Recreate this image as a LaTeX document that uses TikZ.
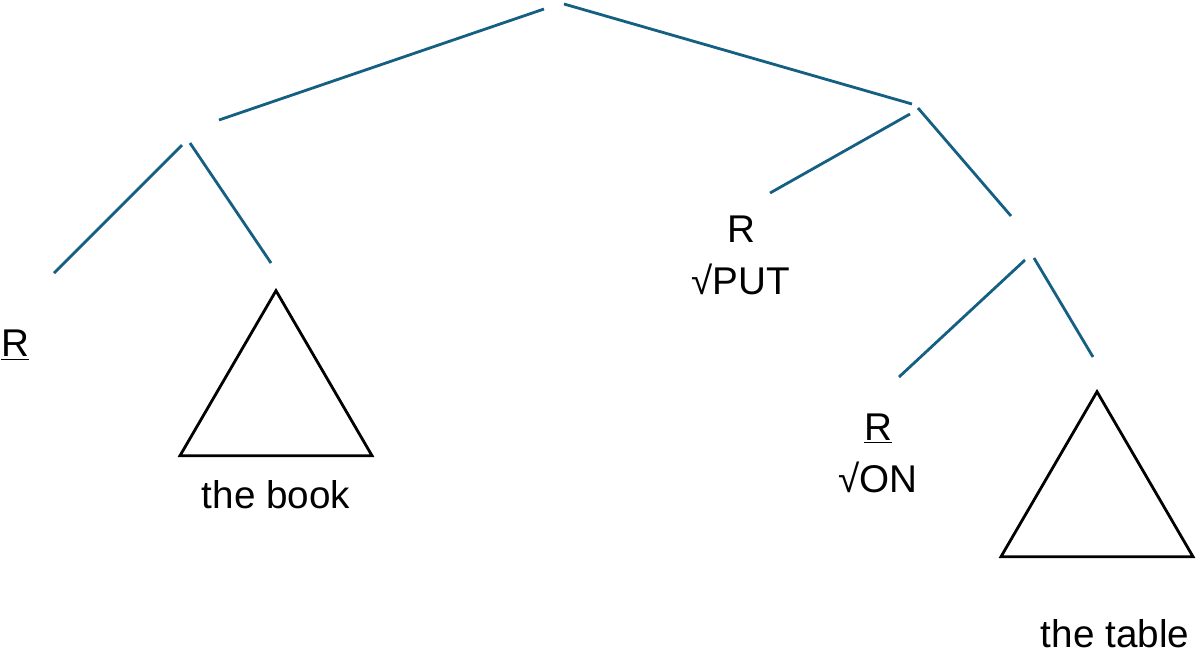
\documentclass[tikz,border=0pt]{standalone}
\usepackage{fontspec}
\setmainfont{Liberation Sans}
\usetikzlibrary{shapes.geometric}

\definecolor{branchblue}{RGB}{21,96,130}

\tikzset{
  syntax/.style={
    x=0.02cm, y=-0.02cm,
    every node/.style={font=\fontsize{22}{29.6}\selectfont, inner sep=0pt},
    branch/.style={draw=branchblue, line width=1.6pt},
    subtree/.style={
        draw=black,
        line width=1.6pt,
        shape=isosceles triangle,
        minimum height=3.3cm,
        minimum width=3.84cm,
        isosceles triangle stretches,
        shape border rotate=90,
        inner sep=0pt,
        anchor=north,
    },
    rootlabel/.style={align=center},
  }
}

\begin{document}
\begin{tikzpicture}[syntax]
  \useasboundingbox (0,0) rectangle (1196,654);

  % ends of the branches
  \coordinate (top L) at (544,9);
  \coordinate (top R) at (564,4);
  \coordinate (dp) at (219,120);
  \coordinate (vp) at (912,104);
  \coordinate (dp L) at (182,145);
  \coordinate (dp R) at (190,143);
  \coordinate (r1) at (54,273);
  \coordinate (book) at (271,263);
  \coordinate (vp L) at (910,114);
  \coordinate (vp R) at (918,108);
  \coordinate (put) at (770,193);
  \coordinate (pp) at (1011,216);
  \coordinate (pp L) at (1025,260);
  \coordinate (pp R) at (1034,258);
  \coordinate (on) at (899,377);
  \coordinate (table) at (1093,357);

  \draw[branch] (top L) -- (dp);
  \draw[branch] (top R) -- (vp);
  \draw[branch] (dp L) -- (r1);
  \draw[branch] (dp R) -- (book);
  \draw[branch] (vp L) -- (put);
  \draw[branch] (vp R) -- (pp);
  \draw[branch] (pp L) -- (on);
  \draw[branch] (pp R) -- (table);

  % the triangles and the words below them
  \node[subtree] (book tri) at (276,287) {};
  \node[subtree] (table tri) at (1097,388) {};
  \node (book txt) at (276,495) {the book};
  \node (table txt) at (1115,634) {the table};

  % the roots
  \node (r1 txt) at (15,345) {\underline{R}};
  \node[rootlabel] (put txt) at (741,255) {R\\√PUT};
  \node[rootlabel] (on txt) at (878,453) {\underline{R}\\√ON};
\end{tikzpicture}
\end{document}
